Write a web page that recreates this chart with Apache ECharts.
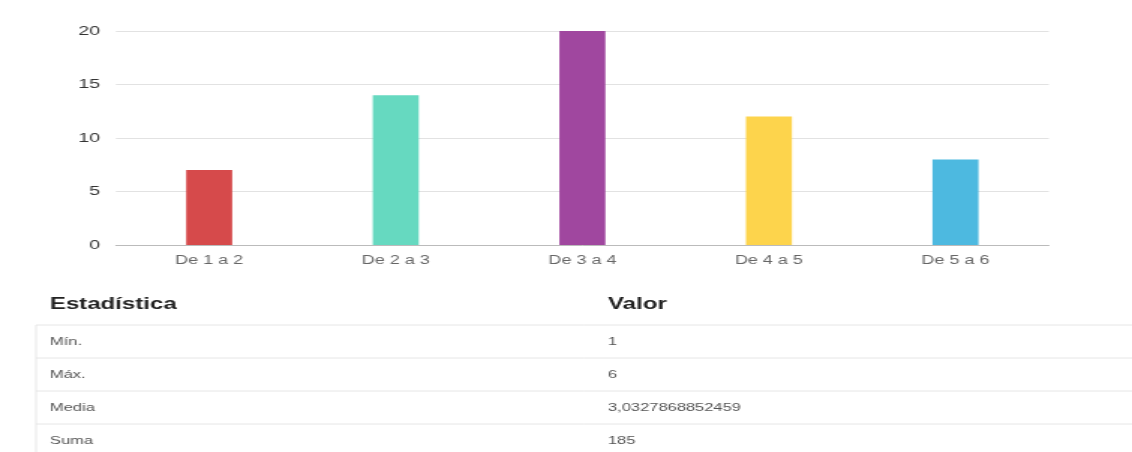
<!DOCTYPE html>
<html>
<head>
<meta charset="utf-8">
<script src="https://cdn.jsdelivr.net/npm/echarts@6/dist/echarts.min.js"></script>
<style>
  html, body { margin: 0; padding: 0; background: #fff; overflow: hidden; }
  /* the page is laid out narrow and widened 1.5x, giving the wide lettering of the report */
  #chart { width: 755px; height: 452px; transform: scaleX(1.4993); transform-origin: 0 0; }
</style>
</head>
<body>
<div id="chart"></div>
<script>
// Frequency by range
const categories = ['De 1 a 2', 'De 2 a 3', 'De 3 a 4', 'De 4 a 5', 'De 5 a 6'];
const counts = [7, 14, 20, 12, 8];
const barColors = ['#d64a4b', '#66d9c0', '#a0479f', '#fdd44c', '#4db9e0'];
const yTicks = [0, 5, 10, 15, 20];

// Summary table
const statHeader = ['Estadística', 'Valor'];
const statNames = ['Mín.', 'Máx.', 'Media', 'Suma'];
const statValues = ['1', '6', '3,0327868852459', '185'];

const font = 'Liberation Sans, Arial, sans-serif';
const W = 755;
const graphics = [];

// table header
graphics.push({ type: 'text', left: 33.3, top: 296.5, style: { text: statHeader[0], font: 'bold 16px ' + font, fill: '#222' } });
graphics.push({ type: 'text', left: 405.5, top: 296.5, style: { text: statHeader[1], font: 'bold 16px ' + font, fill: '#222' } });

// table rows and borders
const rowTop = 325, rowH = 33;
for (let i = 0; i < statNames.length; i++) {
  const y = rowTop + i * rowH;
  graphics.push({ type: 'line', shape: { x1: 24, y1: y, x2: W, y2: y }, style: { stroke: '#e6e6e6', lineWidth: 1 } });
  graphics.push({ type: 'text', left: 33.3, top: y + 11, style: { text: statNames[i], font: '11px ' + font, fill: '#555' } });
  graphics.push({ type: 'text', left: 405.5, top: y + 11, style: { text: statValues[i], font: '11px ' + font, fill: '#555' } });
}
graphics.push({ type: 'line', shape: { x1: 24, y1: rowTop, x2: 24, y2: 452 }, style: { stroke: '#e6e6e6', lineWidth: 1 } });

const chart = echarts.init(document.getElementById('chart'), null, { renderer: 'canvas' });
chart.setOption({
  animation: false,
  grid: { left: 77.3, right: 55.5, top: 31, height: 214 },
  xAxis: {
    type: 'category',
    data: categories,
    axisLine: { lineStyle: { color: '#bbb' } },
    axisTick: { alignWithLabel: true, length: 4, lineStyle: { color: '#999' } },
    axisLabel: { color: '#666', fontSize: 12, fontFamily: font, margin: 9.5 }
  },
  yAxis: {
    type: 'value',
    min: yTicks[0],
    max: yTicks[yTicks.length - 1],
    interval: 5,
    axisLine: { show: false },
    axisTick: { show: false },
    splitLine: { lineStyle: { color: '#e2e2e2' } },
    axisLabel: { color: '#333', fontSize: 13, fontFamily: font, margin: 10.5 }
  },
  series: [{
    type: 'bar',
    barWidth: 30.7,
    data: counts.map((v, i) => ({ value: v, itemStyle: { color: barColors[i] } }))
  }],
  graphic: graphics
});
</script>
</body>
</html>
